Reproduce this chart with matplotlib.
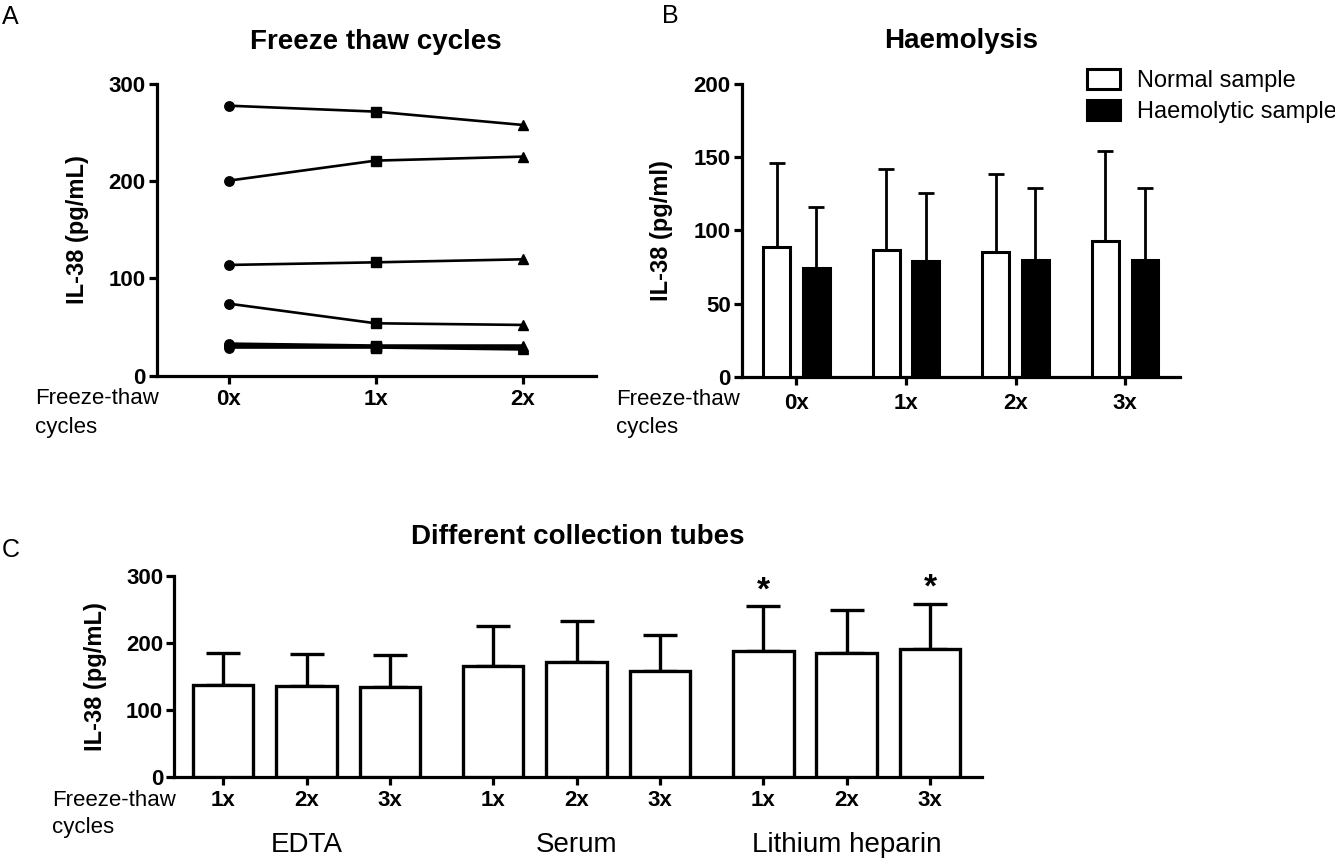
import matplotlib
matplotlib.use("Agg")
import matplotlib.pyplot as plt
import matplotlib.transforms as mtransforms
import numpy as np

plt.rcParams['font.family'] = ['Liberation Sans', 'DejaVu Sans']

# ---------------- data ----------------
# Panel A: freeze-thaw cycles, individual samples
a_cycles = ["0x", "1x", "2x"]
a_s1 = [277.7, 271.6, 257.9]
a_s2 = [200.6, 221.2, 225.3]
a_s3 = [113.9, 116.6, 119.7]
a_s4 = [74.1, 53.9, 52.2]
a_s5 = [33.0, 31.0, 31.0]
a_s6 = [31.0, 30.0, 29.0]
a_s7 = [29.0, 29.0, 27.0]
a_markers = ["o", "s", "^"]

# Panel B: haemolysis
b_cycles = ["0x", "1x", "2x", "3x"]
b_normal_mean = [88.9, 86.7, 85.5, 92.8]
b_normal_sd = [57.5, 55.3, 53.4, 61.8]
b_haem_mean = [74.1, 79.0, 79.8, 80.0]
b_haem_sd = [42.2, 46.9, 49.1, 48.9]
b_labels = ["Normal sample", "Haemolytic sample"]

# Panel C: different collection tubes
c_tubes = ["EDTA", "Serum", "Lithium heparin"]
c_cycles = ["1x", "2x", "3x"]
c_mean = [137.0, 135.6, 134.6, 165.5, 171.5, 158.5, 188.4, 184.9, 191.4]
c_sd = [48.4, 48.3, 47.8, 59.8, 61.7, 53.8, 66.3, 64.8, 67.2]
c_sig = [False, False, False, False, False, False, True, False, True]

# ---------------- layout helpers ----------------
W, H = 1335, 860
fig = plt.figure(figsize=(W / 100, H / 100), dpi=100)

def rect(l, r, t, b):
    return [l / W, 1 - b / H, (r - l) / W, (b - t) / H]

def fx(px):
    return px / W

def fy(py):
    return 1 - py / H

SPINE = 2.3
TICKFS = 16
LABFS = 17

def style_axes(ax):
    for s in ["top", "right"]:
        ax.spines[s].set_visible(False)
    for s in ["left", "bottom"]:
        ax.spines[s].set_linewidth(SPINE)
    ax.tick_params(direction="out", length=5.8, width=SPINE, labelsize=TICKFS, pad=2)
    for lab in ax.get_xticklabels() + ax.get_yticklabels():
        lab.set_fontweight("bold")

# ---------------- Panel A ----------------
axA = fig.add_axes(rect(156.7, 596, 84, 375.7))
xa = np.arange(len(a_cycles))
for s in [a_s1, a_s2, a_s3, a_s4, a_s5, a_s6, a_s7]:
    axA.plot(xa, s, color="black", lw=1.9, zorder=2)
    for xi, yi, m in zip(xa, s, a_markers):
        ms = 7.5 if m == "^" else 6.8
        axA.plot([xi], [yi], marker=m, color="black", ms=ms, zorder=3, linestyle="none")
axA.set_xlim(-0.49, 2.5)
axA.set_ylim(0, 300)
axA.set_yticks([0, 100, 200, 300])
axA.set_xticks(xa)
axA.set_xticklabels(a_cycles)
style_axes(axA)
axA.tick_params(axis="x", pad=4)
axA.set_ylabel("IL-38 (pg/mL)", fontsize=LABFS, fontweight="bold")
axA.yaxis.set_label_coords((89 - 156.7) / 439.3, 0.5)

# ---------------- Panel B ----------------
axB = fig.add_axes(rect(741.7, 1180, 84.3, 376.7))
xb = np.arange(len(b_cycles))
off, bw = 0.18, 0.245
axB.bar(xb - off, b_normal_mean, width=bw, color="white", edgecolor="black", lw=2.2,
        zorder=3, label=b_labels[0])
axB.bar(xb + off, b_haem_mean, width=bw, color="black", edgecolor="black", lw=2.2,
        zorder=3, label=b_labels[1])
axB.errorbar(xb - off, b_normal_mean, yerr=[np.zeros(len(xb)), b_normal_sd], fmt="none",
             ecolor="black", elinewidth=2.0, capsize=6, capthick=2.0, zorder=2)
axB.errorbar(xb + off, b_haem_mean, yerr=[np.zeros(len(xb)), b_haem_sd], fmt="none",
             ecolor="black", elinewidth=2.0, capsize=6, capthick=2.0, zorder=2)
axB.set_xlim(-0.5, 3.5)
axB.set_ylim(0, 200)
axB.set_yticks([0, 50, 100, 150, 200])
axB.set_xticks(xb)
axB.set_xticklabels(b_cycles)
style_axes(axB)
axB.tick_params(axis="x", pad=6)
axB.set_ylabel("IL-38 (pg/ml)", fontsize=LABFS, fontweight="bold")
axB.yaxis.set_label_coords((673 - 741.7) / 438.3, 0.5)
leg = axB.legend(loc="upper left", bbox_to_anchor=(fx(1087), fy(69)),
                 bbox_transform=fig.transFigure, frameon=False, fontsize=17,
                 handlelength=1.4, handleheight=0.95, handletextpad=0.7,
                 labelspacing=0.32, borderpad=0, borderaxespad=0)

# ---------------- Panel C ----------------
axC = fig.add_axes(rect(174, 981.7, 576, 776.7))
group_step = len(c_cycles) + 0.24
xc = np.array([g * group_step + i for g in range(len(c_tubes)) for i in range(len(c_cycles))])
axC.bar(xc, c_mean, width=0.725, color="white", edgecolor="black", lw=2.4, zorder=3)
axC.errorbar(xc, c_mean, yerr=[np.zeros(len(xc)), c_sd], fmt="none", ecolor="black",
             elinewidth=2.4, capsize=12.5, capthick=2.4, zorder=2)
for xi, m, s, sig in zip(xc, c_mean, c_sd, c_sig):
    if sig:
        axC.annotate("*", xy=(xi, m + s), xytext=(0, 11), textcoords="offset points",
                     ha="center", va="center", fontsize=24, fontweight="bold")
axC.set_xlim(-0.59, xc[-1] + 0.62)
axC.set_ylim(0, 300)
axC.set_yticks([0, 100, 200, 300])
axC.set_xticks(xc)
axC.set_xticklabels(c_cycles * len(c_tubes))
style_axes(axC)
axC.tick_params(axis="x", pad=4)
axC.set_ylabel("IL-38 (pg/mL)", fontsize=LABFS, fontweight="bold")
axC.yaxis.set_label_coords((107 - 174) / 807.7, 0.5)
trans = mtransforms.blended_transform_factory(axC.transData, fig.transFigure)
for g, name in enumerate(c_tubes):
    axC.text(g * group_step + 1, fy(845), name, transform=trans, ha="center",
             va="center", fontsize=20)

# ---------------- titles & labels ----------------
fig.text(fx(376.3), fy(42), "Freeze thaw cycles", ha="center", va="center",
         fontsize=20, fontweight="bold")
fig.text(fx(960.8), fy(41), "Haemolysis", ha="center", va="center",
         fontsize=20, fontweight="bold")
fig.text(fx(577.8), fy(537), "Different collection tubes", ha="center", va="center",
         fontsize=20, fontweight="bold")
fig.text(fx(2), fy(17), "A", ha="left", va="center", fontsize=18)
fig.text(fx(662), fy(16), "B", ha="left", va="center", fontsize=18)
fig.text(fx(2), fy(550), "C", ha="left", va="center", fontsize=18)

for (x0, y0) in [(35, 399), (616, 400), (52, 800)]:
    fig.text(fx(x0), fy(y0), "Freeze-thaw", ha="left", va="center", fontsize=16)
    fig.text(fx(x0), fy(y0 + 28), "cycles", ha="left", va="center", fontsize=16)

fig.savefig("out.png", dpi=100)
